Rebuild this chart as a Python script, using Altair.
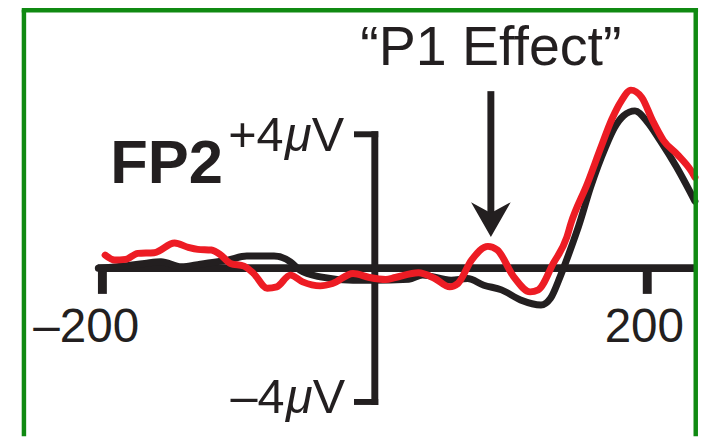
import altair as alt
import pandas as pd

# ---- data (time in ms, amplitude in µV) ----
t_red = [-198, -191, -183, -174, -162, -147, -137, -130, -120, -113, -106, -96, -89, -79, -72, -62,
         -53, -40, -31, -16, -4, 8, 15, 32, 44, 55, 61, 71, 83, 90, 102, 114, 120, 131, 141, 144,
         156, 166, 174, 181, 188, 196, 204, 212, 222, 232, 235]
uv_red = [0.39, 0.24, 0.26, 0.44, 0.46, 0.75, 0.62, 0.56, 0.54, 0.39, 0.14, 0.06, -0.16, -0.60, -0.56, -0.21,
          -0.41, -0.53, -0.46, -0.16, -0.28, -0.34, -0.28, -0.14, -0.31, -0.56, -0.46, 0.24, 0.65, 0.54, -0.26,
          -0.71, -0.65, 0.14, 0.93, 1.34, 2.52, 3.61, 4.45, 5.0, 5.32, 5.1, 4.4, 3.81, 3.4, 2.92, 2.72]

t_black = [-203, -186, -169, -157, -142, -128, -108, -94, -74, -62, -55, -40, -16, -2, 25, 35, 56, 68, 80,
           93, 107, 122, 129, 136, 146, 149.5, 158.4, 169.3, 176, 182.5, 191, 199.5, 209.5, 221.5, 235]
uv_black = [0.0, 0.06, 0.14, 0.19, 0.04, 0.12, 0.24, 0.36, 0.36, 0.19, -0.06, -0.26, -0.36, -0.36, -0.33,
            -0.21, -0.36, -0.31, -0.51, -0.65, -0.95, -1.10, -0.90, -0.26, 0.83, 1.24, 2.42, 3.61, 4.2, 4.55,
            4.70, 4.4, 3.81, 3.02, 2.0]

x_ticks = [-200, 200]
x_tick_labels = ["\u2013200", "200"]

X_DOMAIN = [-269.3, 240.2]
Y_DOMAIN = [-5.022, 7.719]

INK = "#231f20"
RED = "#ed1c24"
GREEN = "#108a12"

xs = alt.Scale(domain=X_DOMAIN, nice=False, zero=False)
ys = alt.Scale(domain=Y_DOMAIN, nice=False, zero=False)


def enc(**kw):
    out = {}
    for ch, field in kw.items():
        if ch == "x":
            out[ch] = alt.X(field, type="quantitative", scale=xs, axis=None)
        elif ch == "y":
            out[ch] = alt.Y(field, type="quantitative", scale=ys, axis=None)
        elif ch == "x2":
            out[ch] = alt.X2(field)
        elif ch == "y2":
            out[ch] = alt.Y2(field)
        else:
            out[ch] = field
    return out


df_red = pd.DataFrame({"t": t_red, "uv": uv_red})
df_black = pd.DataFrame({"t": t_black, "uv": uv_black})

# axis line and ticks
axis_line = alt.Chart(pd.DataFrame({"x": [-203.5], "x2": [235.6], "y": [0.0]})).mark_rule(
    color=INK, strokeWidth=8).encode(**enc(x="x", x2="x2", y="y"))

ticks = alt.Chart(pd.DataFrame({"x": x_ticks, "y": [0.0, 0.0], "y2": [-0.77, -0.77]})).mark_rule(
    color=INK, strokeWidth=9).encode(**enc(x="x", y="y", y2="y2"))

tick_text = alt.Chart(pd.DataFrame({"x": [-173.0, 227.0], "y": [-2.21, -2.21], "label": x_tick_labels})).mark_text(
    font="Liberation Sans", fontSize=48, color=INK, align="right", baseline="alphabetic").encode(
    **enc(x="x", y="y"), text="label:N")

# y axis bracket
y_axis = alt.Chart(pd.DataFrame({"x": [0.0], "y": [4.09], "y2": [-4.09]})).mark_rule(
    color=INK, strokeWidth=7).encode(**enc(x="x", y="y", y2="y2"))
brackets = alt.Chart(pd.DataFrame({"x": [-15.3, -15.3], "x2": [2.5, 2.5], "y": [4.0, -4.0]})).mark_rule(
    color=INK, strokeWidth=6).encode(**enc(x="x", x2="x2", y="y"))

ylab_plain = alt.Chart(pd.DataFrame({
    "x": [-22.6, -67.0, -21.8, -66.2],
    "y": [3.51, 3.51, -4.34, -4.34],
    "label": ["V", "+4", "V", "\u20134"]})).mark_text(
    font="Liberation Sans", fontSize=49, color=INK, align="right", baseline="alphabetic").encode(
    **enc(x="x", y="y"), text="label:N")
ylab_mu = alt.Chart(pd.DataFrame({"x": [-46.4, -45.6], "y": [3.51, -4.34], "label": ["\u03bc", "\u03bc"]})).mark_text(
    font="Liberation Sans", fontSize=49, fontStyle="italic", color=INK, align="right",
    baseline="alphabetic").encode(**enc(x="x", y="y"), text="label:N")

fp2 = alt.Chart(pd.DataFrame({"x": [-194.3], "y": [2.533], "label": ["FP2"]})).mark_text(
    font="Liberation Sans", fontSize=62, fontWeight="bold", color=INK, align="left",
    baseline="alphabetic").encode(**enc(x="x", y="y"), text="label:N")

p1 = alt.Chart(pd.DataFrame({"x": [85.2], "y": [6.07], "label": ["\u201cP1 Effect\u201d"]})).mark_text(
    font="Liberation Sans", fontSize=56, color=INK, align="center",
    baseline="alphabetic").encode(**enc(x="x", y="y"), text="label:N")

# arrow
shaft = alt.Chart(pd.DataFrame({"x": [85.2], "y": [5.289], "y2": [1.6]})).mark_rule(
    color=INK, strokeWidth=7).encode(**enc(x="x", y="y", y2="y2"))
head = alt.Chart(pd.DataFrame({"x": [85.2], "y": [1.452]})).mark_point(
    shape="M0,0.875L-1,-0.875L0,-0.325L1,-0.875Z", size=1600, filled=True, color=INK,
    opacity=1, strokeWidth=0).encode(**enc(x="x", y="y"))

black_line = alt.Chart(df_black).mark_line(
    color=INK, strokeWidth=7, strokeCap="round", strokeJoin="round", interpolate="monotone").encode(
    **enc(x="t", y="uv"))
red_line = alt.Chart(df_red).mark_line(
    color=RED, strokeWidth=7, strokeCap="round", strokeJoin="round", interpolate="monotone").encode(
    **enc(x="t", y="uv"))

# green frame (left, top, right)
frame_v = alt.Chart(pd.DataFrame({"x": [-257.6, 235.6], "y": [7.719, 7.719], "y2": [-5.022, -5.022]})).mark_rule(
    color=GREEN, strokeWidth=4.5).encode(**enc(x="x", y="y", y2="y2"))
frame_h = alt.Chart(pd.DataFrame({"x": [-259.2], "x2": [237.3], "y": [7.704]})).mark_rule(
    color=GREEN, strokeWidth=4.5).encode(**enc(x="x", x2="x2", y="y"))

chart = alt.layer(
    axis_line, ticks, tick_text, y_axis, brackets, ylab_plain, ylab_mu, fp2, p1, shaft, head,
    black_line, red_line, frame_v, frame_h
).properties(
    width=700, height=430, padding=0, autosize=alt.AutoSizeParams(type="none"),
    background="white"
).configure_view(strokeWidth=0)

chart.save("out.html", embed_options={"renderer": "svg", "actions": False})
